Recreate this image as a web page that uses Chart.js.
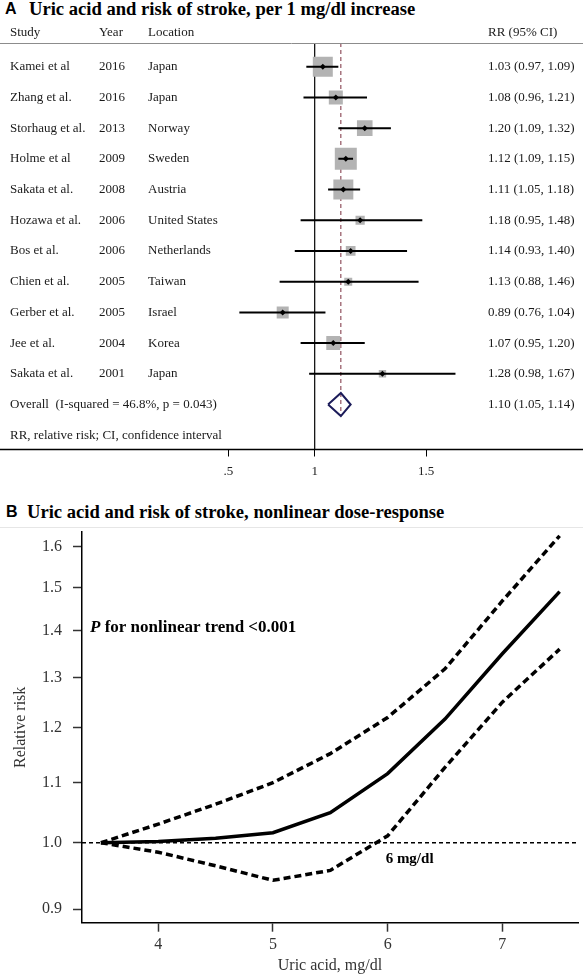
<!DOCTYPE html>
<html>
<head>
<meta charset="utf-8">
<script src="https://cdn.jsdelivr.net/npm/chart.js@4.4.1/dist/chart.umd.min.js"></script>
<style>
  html, body { margin: 0; padding: 0; background: #fff; }
  #page { position: relative; width: 583px; height: 974px; overflow: hidden; background: #fff; }
  .ttl { position: absolute; white-space: nowrap; font-family: "Liberation Serif", serif; font-weight: bold; font-size: 18.6px; line-height: 18px; color: #000; }
  .lt { position: absolute; white-space: nowrap; font-family: "Liberation Sans", sans-serif; font-weight: bold; font-size: 16px; line-height: 18px; color: #000; }
  #sepB { position: absolute; left: 0; top: 527px; width: 583px; height: 1px; background: #e6e6e6; }
  canvas { position: absolute; left: 0; }
</style>
</head>
<body>
<div id="page">
  <div class="lt" style="left:5px;top:0px;">A</div>
  <div class="ttl" style="left:29px;top:0px;">Uric acid and risk of stroke, per 1 mg/dl increase</div>
  <canvas id="forest" width="583" height="490" style="top:0px;"></canvas>
  <div class="lt" style="left:6px;top:503px;">B</div>
  <div class="ttl" style="left:27px;top:503px;">Uric acid and risk of stroke, nonlinear dose-response</div>
  <div id="sepB"></div>
  <canvas id="dose" width="583" height="444" style="top:530px;"></canvas>
</div>
<script>
// ---------------- Panel A: forest plot data ----------------
const studies   = ['Kamei et al', 'Zhang et al.', 'Storhaug et al.', 'Holme et al', 'Sakata et al.', 'Hozawa et al.', 'Bos et al.', 'Chien et al.', 'Gerber et al.', 'Jee et al.', 'Sakata et al.'];
const years     = [2016, 2016, 2013, 2009, 2008, 2006, 2006, 2005, 2005, 2004, 2001];
const locations = ['Japan', 'Japan', 'Norway', 'Sweden', 'Austria', 'United States', 'Netherlands', 'Taiwan', 'Israel', 'Korea', 'Japan'];
const rr        = [1.03, 1.08, 1.20, 1.12, 1.11, 1.18, 1.14, 1.13, 0.89, 1.07, 1.28];
const ciLow     = [0.97, 0.96, 1.09, 1.09, 1.05, 0.95, 0.93, 0.88, 0.76, 0.95, 0.98];
const ciHigh    = [1.09, 1.21, 1.32, 1.15, 1.18, 1.48, 1.40, 1.46, 1.04, 1.20, 1.67];
const weights   = [16.9, 8.3, 10.3, 20.5, 16.9, 3.6, 4.0, 2.7, 6.1, 8.3, 2.3];   // study weight, % (box area)
const overallRR = 1.10, overallLow = 1.05, overallHigh = 1.14;
const iSquared = 46.8, pHeterogeneity = 0.043;
const footnote = 'RR, relative risk; CI, confidence interval';
const forestTickValues = [0.73, 1, 1.5];      // tick positions as drawn in the source figure
const forestTickLabels = ['.5', '1', '1.5'];

// ---------------- Panel B: dose-response data ----------------
const uricAcid   = [3.5, 4.0, 4.5, 5.0, 5.5, 6.0, 6.5, 7.0, 7.5];
const rrEstimate = [1.000, 1.002, 1.007, 1.016, 1.049, 1.116, 1.217, 1.350, 1.490];
const rrUpper    = [1.000, 1.030, 1.063, 1.100, 1.152, 1.220, 1.318, 1.468, 1.628];
const rrLower    = [1.000, 0.985, 0.964, 0.942, 0.957, 1.011, 1.127, 1.250, 1.360];
const doseYTicks = [0.9, 1.0, 1.1, 1.2, 1.3, 1.4, 1.5, 1.6];
const doseXTicks = [4, 5, 6, 7];

// ================= Panel A =================
const SERIF = '"Liberation Serif", "Times New Roman", serif';
const fmtCI = (e, l, h) => `${e.toFixed(2)} (${l.toFixed(2)}, ${h.toFixed(2)})`;
const nRows = studies.length;
const noPad = s => { s.paddingLeft = 0; s.paddingRight = 0; s.paddingTop = 0; s.paddingBottom = 0; };

const ciPoints = [];
rr.forEach((v, i) => {
  ciPoints.push({ x: ciLow[i], y: i }, { x: ciHigh[i], y: i }, { x: NaN, y: NaN });
});
const boxScale = 4.86; // px of box side per sqrt(% weight)
const boxRadius = weights.map(w => boxScale * Math.sqrt(w) / Math.SQRT2);
const dHalf = 0.375;
const diamond = [
  { x: overallLow, y: nRows }, { x: overallRR, y: nRows - dHalf },
  { x: overallHigh, y: nRows }, { x: overallRR, y: nRows + dHalf },
  { x: overallLow, y: nRows }
];
const yTopA = -0.772, yBotA = 12.465;

const forestText = {
  id: 'forestText',
  afterDraw(chart) {
    const { ctx, chartArea: ca, scales: { y } } = chart;
    ctx.save();
    ctx.strokeStyle = '#8c8c8c';
    ctx.lineWidth = 1;
    ctx.beginPath();
    ctx.moveTo(0, Math.round(ca.top) + 0.5);
    ctx.lineTo(chart.width, Math.round(ca.top) + 0.5);
    ctx.stroke();
    ctx.strokeStyle = '#000';
    ctx.lineWidth = 1.5;
    ctx.beginPath();
    ctx.moveTo(0, ca.bottom);
    ctx.lineTo(chart.width, ca.bottom);
    ctx.stroke();
    ctx.font = '13px ' + SERIF;
    ctx.fillStyle = '#1a1a1a';
    ctx.textBaseline = 'middle';
    const cS = 10, cY = 99, cL = 148, cR = 488;
    const hy = ca.top - 10;
    ctx.fillText('Study', cS, hy);
    ctx.fillText('Year', cY, hy);
    ctx.fillText('Location', cL, hy);
    ctx.fillText('RR (95% CI)', cR, hy);
    studies.forEach((s, i) => {
      const py = y.getPixelForValue(i);
      ctx.fillText(s, cS, py);
      ctx.fillText(String(years[i]), cY, py);
      ctx.fillText(locations[i], cL, py);
      ctx.fillText(fmtCI(rr[i], ciLow[i], ciHigh[i]), cR, py);
    });
    const oy = y.getPixelForValue(nRows);
    ctx.fillText(`Overall  (I-squared = ${iSquared.toFixed(1)}%, p = ${pHeterogeneity.toFixed(3)})`, cS, oy);
    ctx.fillText(fmtCI(overallRR, overallLow, overallHigh), cR, oy);
    ctx.fillText(footnote, cS, y.getPixelForValue(nRows + 1));
    ctx.restore();
  }
};

new Chart(document.getElementById('forest'), {
  type: 'scatter',
  data: {
    datasets: [
      { data: rr.map((v, i) => ({ x: v, y: i })), pointStyle: 'rectRot', pointRadius: 3,
        backgroundColor: '#000', borderColor: '#000', borderWidth: 0, order: 0 },
      { data: diamond, showLine: true, borderColor: '#1c1c5a', borderWidth: 2, pointRadius: 0,
        fill: false, tension: 0, order: 0 },
      { data: ciPoints, showLine: true, spanGaps: false, borderColor: '#000', borderWidth: 2,
        pointRadius: 0, tension: 0, order: 1 },
      { data: rr.map((v, i) => ({ x: v, y: i })), pointStyle: 'rect', pointRadius: boxRadius,
        backgroundColor: '#b3b3b3', borderWidth: 0, order: 3 },
      { data: [{ x: 1, y: yTopA }, { x: 1, y: yBotA }], showLine: true, borderColor: '#000',
        borderWidth: 1.2, pointRadius: 0, order: 4 },
      { data: [{ x: overallRR, y: yTopA }, { x: overallRR, y: nRows + dHalf }], showLine: true,
        borderColor: '#7a2e3e', borderWidth: 1, borderDash: [4, 3], pointRadius: 0, order: 5 }
    ]
  },
  options: {
    responsive: false, animation: false, devicePixelRatio: 1,
    layout: { padding: { top: 43, left: 0, right: 0, bottom: 0 } },
    plugins: { legend: { display: false }, tooltip: { enabled: false } },
    scales: {
      x: {
        type: 'logarithmic', bounds: 'data',
        min: Math.exp(-316 / 290), max: Math.exp(267 / 290),
        afterBuildTicks: s => { s.ticks = forestTickValues.map(v => ({ value: v })); },
        afterFit: s => { s.height = 40.5; noPad(s); },
        ticks: { callback: (v, i) => forestTickLabels[i], font: { family: SERIF, size: 13 },
                 color: '#222', padding: 7, maxRotation: 0, autoSkip: false },
        grid: { drawOnChartArea: false, drawTicks: true, tickLength: 7, tickColor: '#000', tickWidth: 1 },
        border: { display: false }
      },
      y: { type: 'linear', display: false, reverse: true, min: yTopA, max: yBotA }
    }
  },
  plugins: [forestText]
});

// ================= Panel B =================
const doseText = {
  id: 'doseText',
  afterDraw(chart) {
    const { ctx, chartArea: ca, scales: { x, y } } = chart;
    ctx.save();
    ctx.fillStyle = '#000';
    ctx.textBaseline = 'middle';
    const py = y.getPixelForValue(1.4) - 3;
    let px = ca.left + 8;
    ctx.font = 'italic bold 17px ' + SERIF;
    ctx.fillText('P', px, py);
    px += ctx.measureText('P').width;
    ctx.font = 'bold 17px ' + SERIF;
    ctx.fillText(' for nonlinear trend <0.001', px, py);
    ctx.font = 'bold 15px ' + SERIF;
    ctx.fillText('6 mg/dl', x.getPixelForValue(6) - 2, y.getPixelForValue(1.0) + 16);
    ctx.restore();
  }
};

const xMinB = 3.335, xMaxB = 7.66;
new Chart(document.getElementById('dose'), {
  type: 'scatter',
  data: {
    datasets: [
      { data: [{ x: xMinB, y: 1 }, { x: xMaxB, y: 1 }], showLine: true, borderColor: '#000',
        borderWidth: 1.6, borderDash: [4, 3], pointRadius: 0 },
      { data: uricAcid.map((v, i) => ({ x: v, y: rrUpper[i] })), showLine: true, borderColor: '#000',
        borderWidth: 3.5, borderDash: [7, 4], pointRadius: 0, tension: 0 },
      { data: uricAcid.map((v, i) => ({ x: v, y: rrLower[i] })), showLine: true, borderColor: '#000',
        borderWidth: 3.5, borderDash: [7, 4], pointRadius: 0, tension: 0 },
      { data: uricAcid.map((v, i) => ({ x: v, y: rrEstimate[i] })), showLine: true, borderColor: '#000',
        borderWidth: 3.5, pointRadius: 0, tension: 0 }
    ]
  },
  options: {
    responsive: false, animation: false, devicePixelRatio: 1,
    layout: { padding: { top: 2, left: 0, right: 5, bottom: 0 } },
    plugins: { legend: { display: false }, tooltip: { enabled: false } },
    scales: {
      x: {
        type: 'linear', min: xMinB, max: xMaxB,
        afterBuildTicks: s => { s.ticks = doseXTicks.map(v => ({ value: v })); },
        afterFit: s => { s.height = 51.3; noPad(s); },
        ticks: { font: { family: SERIF, size: 16 }, color: '#333', padding: 3, maxRotation: 0, autoSkip: false,
                 callback: v => String(v) },
        grid: { drawOnChartArea: false, drawTicks: true, tickLength: 9, tickColor: '#333', tickWidth: 1.5 },
        border: { display: true, color: '#000', width: 1.5 },
        title: { display: true, text: 'Uric acid, mg/dl', font: { family: SERIF, size: 16, lineHeight: 1 },
                 color: '#333', padding: { top: 0, bottom: 0 } }
      },
      y: {
        type: 'logarithmic', bounds: 'data', min: 0.8807, max: 1.638,
        afterBuildTicks: s => { s.ticks = doseYTicks.map(v => ({ value: v })); },
        afterFit: s => { s.width = 82; noPad(s); },
        ticks: { font: { family: SERIF, size: 16 }, color: '#333', padding: 11, autoSkip: false,
                 callback: v => Number(v).toFixed(1) },
        grid: { drawOnChartArea: false, drawTicks: true, tickLength: 9, tickColor: '#333', tickWidth: 1.5 },
        border: { display: true, color: '#000', width: 1.5 },
        title: { display: true, text: 'Relative risk', font: { family: SERIF, size: 16, lineHeight: 1.2 },
                 color: '#333', padding: { top: 11, bottom: 0 } }
      }
    }
  },
  plugins: [doseText]
});
</script>
</body>
</html>
